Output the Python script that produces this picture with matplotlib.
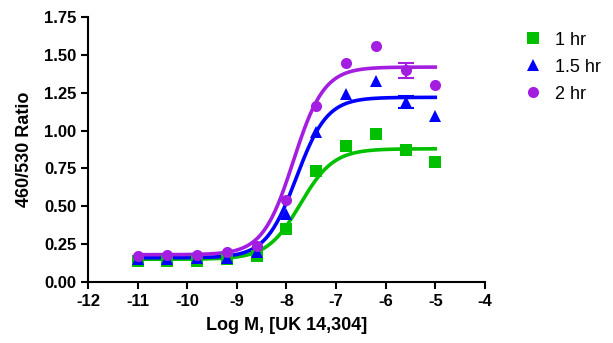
import numpy as np
from matplotlib import pyplot as plt

plt.rcParams['axes.unicode_minus'] = False

log_conc = [-11.0, -10.4, -9.8, -9.2, -8.6, -8.0, -7.4, -6.8, -6.2, -5.6, -5.0]

ratio_1hr = [0.14, 0.14, 0.14, 0.15, 0.17, 0.35, 0.73, 0.90, 0.98, 0.87, 0.79]
ratio_15hr = [0.15, 0.15, 0.16, 0.16, 0.20, 0.45, 0.99, 1.24, 1.33, 1.19, 1.10]
ratio_2hr = [0.17, 0.18, 0.18, 0.20, 0.24, 0.54, 1.16, 1.45, 1.56, 1.40, 1.30]

err_15hr = [0, 0, 0, 0, 0, 0, 0, 0, 0, 0.04, 0]
err_2hr = [0, 0, 0, 0, 0, 0, 0, 0, 0, 0.05, 0]

# 4PL fit parameters: bottom, top, logEC50, hill slope
fit_1hr = (0.15, 0.88, -7.72, 1.3)
fit_15hr = (0.16, 1.22, -7.80, 1.4)
fit_2hr = (0.18, 1.42, -7.86, 1.4)

labels = ['1 hr', '1.5 hr', '2 hr']
colors = ['#00c000', '#0000ff', '#a31ee0']
markers = ['s', '^', 'o']


def four_pl(x, bottom, top, log_ec50, hill):
    return bottom + (top - bottom) / (1 + 10 ** ((log_ec50 - x) * hill))


fig = plt.figure(figsize=(6.13, 3.43), dpi=100)
ax = fig.add_axes([0.1436, 0.178, 0.791 - 0.1436, 0.950 - 0.178])

x_fit = np.linspace(-11, -5, 300)
series = [(ratio_1hr, None, fit_1hr), (ratio_15hr, err_15hr, fit_15hr), (ratio_2hr, err_2hr, fit_2hr)]
handles = []
for (ys, errs, fit), label, color, marker in zip(series, labels, colors, markers):
    ax.plot(x_fit, four_pl(x_fit, *fit), color=color, lw=2.6, zorder=2)
    if errs is not None:
        keep = [i for i, e in enumerate(errs) if e > 0]
        ax.errorbar([log_conc[i] for i in keep], [ys[i] for i in keep], yerr=[errs[i] for i in keep],
                    fmt='none', ecolor=color, elinewidth=1.5, capsize=6, capthick=1.5, zorder=3)
    h, = ax.plot(log_conc, ys, linestyle='none', marker=marker, color=color, markersize=8,
                 markeredgewidth=0, zorder=4, label=label)
    handles.append(h)

ax.set_xlim(-12, -4)
ax.set_ylim(0, 1.75)
ax.set_xticks(range(-12, -3))
ax.set_yticks(np.arange(0, 1.76, 0.25))
ax.set_yticklabels([f'{v:.2f}' for v in np.arange(0, 1.76, 0.25)])

for spine in ['top', 'right']:
    ax.spines[spine].set_visible(False)
for spine in ['left', 'bottom']:
    ax.spines[spine].set_linewidth(1.5)

ax.tick_params(width=1.5, length=5, labelsize=12)
for lbl in ax.get_xticklabels() + ax.get_yticklabels():
    lbl.set_fontweight('bold')
    lbl.set_family('Liberation Sans')

ax.set_xlabel('Log M, [UK 14,304]', fontsize=13, fontweight='bold', family='Liberation Sans', labelpad=6)
ax.set_ylabel('460/530 Ratio', fontsize=13, fontweight='bold', family='Liberation Sans', labelpad=8)

fig.legend(handles=handles, loc='upper left', bbox_to_anchor=(0.828, 0.955), frameon=False,
           prop={'family': 'Liberation Sans', 'size': 13}, handlelength=1, handletextpad=0.7,
           labelspacing=0.55)

plt.savefig('out.png', dpi=100)
plt.close()
